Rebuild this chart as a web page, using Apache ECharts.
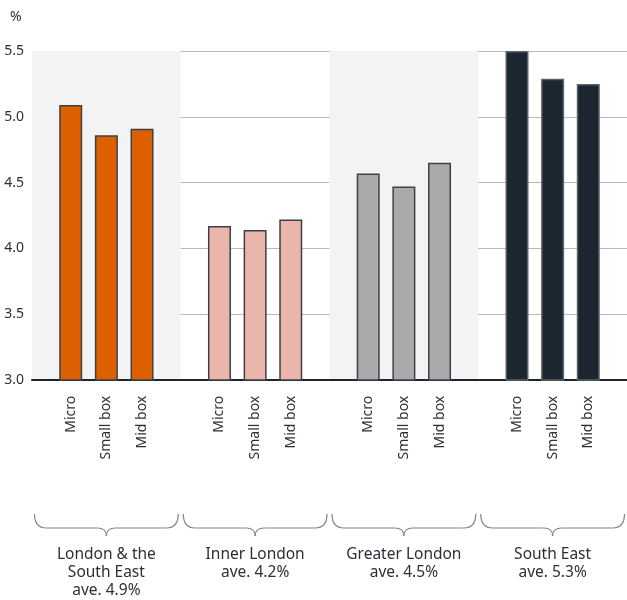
<!DOCTYPE html>
<html>
<head>
<meta charset="utf-8">
<script src="https://cdn.jsdelivr.net/npm/echarts@6/dist/echarts.min.js"></script>
<style>
  html, body { margin: 0; padding: 0; background: #fff; }
  #chart { width: 627px; height: 600px; }
</style>
</head>
<body>
<div id="chart"></div>
<script>
// Regional groups (x-axis categories) and the three sizes shown in each
const groups = [
  'London & the\nSouth East\nave. 4.9%',
  'Inner London\nave. 4.2%',
  'Greater London\nave. 4.5%',
  'South East\nave. 5.3%'
];
const sizes = ['Micro', 'Small box', 'Mid box'];

// Values in %, one entry per group
const microValues = [5.09, 4.17, 4.57, 5.50];
const smallBoxValues = [4.86, 4.14, 4.47, 5.29];
const midBoxValues = [4.91, 4.22, 4.65, 5.25];

// Y-axis ticks
const yTicks = [3.0, 3.5, 4.0, 4.5, 5.0, 5.5];

// Fill colour for each group
const groupColors = ['#dc5f00', '#eab5ab', '#aaaaac', '#1c2630'];

const FONT = 'Noto Sans';
const TEXT = '#2b3036';
const GRID_LEFT = 32, GRID_WIDTH = 599;

const seriesValues = [microValues, smallBoxValues, midBoxValues];

const chart = echarts.init(document.getElementById('chart'), null, { renderer: 'canvas' });

const series = sizes.map((name, si) => ({
  name: name,
  type: 'bar',
  barWidth: 23,
  barGap: '55%',
  data: seriesValues[si].map((v, gi) => ({
    value: v,
    itemStyle: {
      color: groupColors[gi],
      borderColor: gi === 3 ? '#5a6168' : '#3c4147',
      borderWidth: 1.5
    }
  })),
  label: {
    show: true,
    position: 'bottom',
    distance: 15,
    rotate: 90,
    align: 'right',
    verticalAlign: 'middle',
    formatter: name,
    fontFamily: FONT,
    fontSize: 14,
    color: TEXT
  },
  emphasis: { disabled: true },
  animation: false
}));

chart.setOption({
  animation: false,
  grid: { left: GRID_LEFT, top: 51, width: GRID_WIDTH, height: 330 },
  xAxis: {
    type: 'category',
    data: groups,
    axisLine: { show: true, lineStyle: { color: '#1c2630', width: 2 } },
    axisTick: { show: false },
    axisLabel: {
      margin: 166,
      fontFamily: FONT,
      fontSize: 15.5,
      lineHeight: 18,
      color: TEXT,
      interval: 0
    },
    splitArea: {
      show: true,
      interval: 0,
      areaStyle: { color: ['#f3f3f3', 'rgba(255,255,255,0)'] }
    }
  },
  yAxis: {
    type: 'value',
    min: yTicks[0],
    max: yTicks[yTicks.length - 1],
    interval: 0.5,
    axisLine: { show: false },
    axisTick: { show: false },
    axisLabel: {
      margin: 8,
      fontFamily: FONT,
      fontSize: 14,
      color: TEXT,
      formatter: v => v.toFixed(1)
    },
    splitLine: { lineStyle: { color: '#b8b8b8', width: 1 } }
  },
  series: series
});

// Curly braces under each group, spanning the group's band
const band = GRID_WIDTH / groups.length;
const braceStyle = { fill: null, stroke: '#808386', lineWidth: 1.2 };
const braces = [];
groups.forEach((g, i) => {
  const cx = chart.convertToPixel({ xAxisIndex: 0 }, i);
  const x0 = cx - band / 2 + 3;
  const x1 = cx + band / 2 - 3;
  const yTop = 514, yMid = 528, yTip = 536;
  const curve = (ax, ay, bx, by, qx, qy) => ({
    type: 'bezierCurve',
    shape: { x1: ax, y1: ay, x2: bx, y2: by, cpx1: qx, cpy1: qy },
    style: braceStyle,
    silent: true
  });
  const seg = (ax, ay, bx, by) => ({
    type: 'line',
    shape: { x1: ax, y1: ay, x2: bx, y2: by },
    style: braceStyle,
    silent: true
  });
  braces.push(
    curve(x0, yTop, x0 + 12, yMid, x0, yMid),
    seg(x0 + 12, yMid, cx - 9, yMid),
    curve(cx - 9, yMid, cx, yTip, cx, yMid),
    curve(cx, yTip, cx + 9, yMid, cx, yMid),
    seg(cx + 9, yMid, x1 - 12, yMid),
    curve(x1 - 12, yMid, x1, yTop, x1, yMid)
  );
});

chart.setOption({
  graphic: [
    {
      type: 'text',
      left: 10,
      top: 10,
      style: { text: '%', fontFamily: FONT, fontSize: 14, fill: TEXT },
      silent: true
    }
  ].concat(braces)
});
</script>
</body>
</html>
